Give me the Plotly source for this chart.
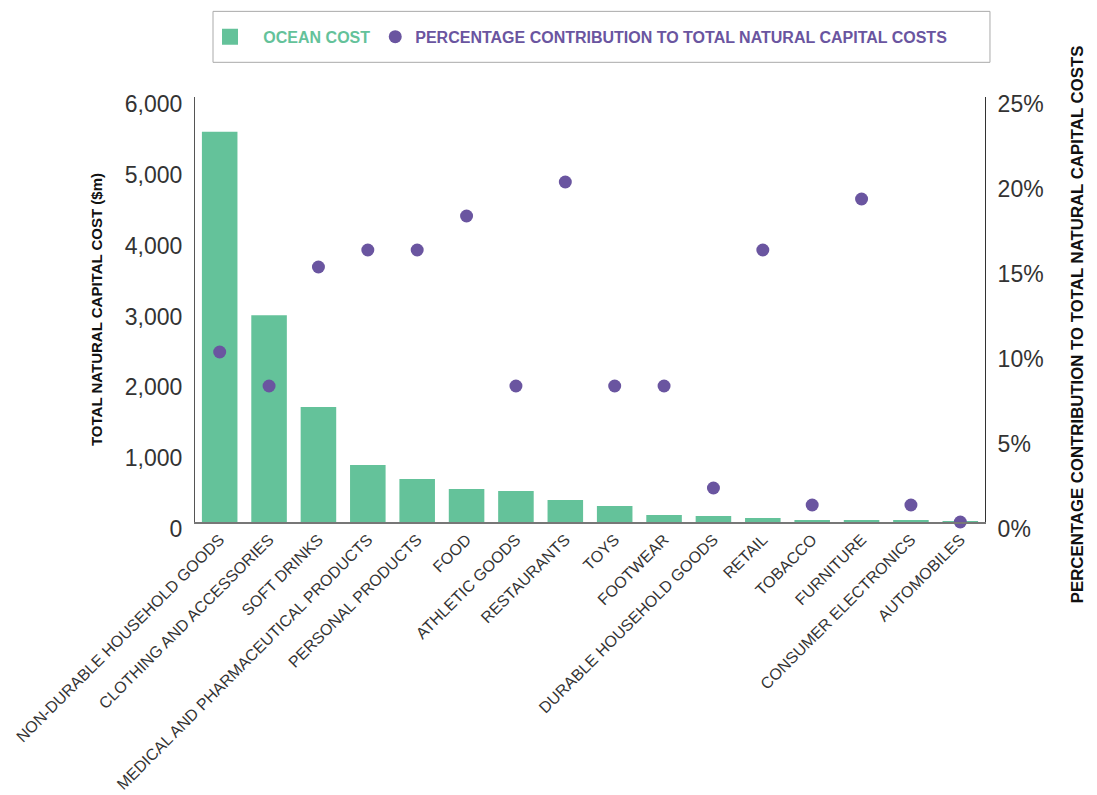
import plotly.graph_objects as go

categories = [
    "NON-DURABLE HOUSEHOLD GOODS", "CLOTHING AND ACCESSORIES", "SOFT DRINKS",
    "MEDICAL AND PHARMACEUTICAL PRODUCTS", "PERSONAL PRODUCTS", "FOOD",
    "ATHLETIC GOODS", "RESTAURANTS", "TOYS", "FOOTWEAR",
    "DURABLE HOUSEHOLD GOODS", "RETAIL", "TOBACCO", "FURNITURE",
    "CONSUMER ELECTRONICS", "AUTOMOBILES",
]
ocean_cost = [5510, 2920, 1625, 805, 607, 466, 438, 311, 226, 99, 85, 56, 28, 28, 16, 1]
pct_contribution = [10, 8, 15, 16, 16, 18, 8, 20, 8, 8, 2, 16, 1, 19, 1, 0]

left_ticks = [0, 1000, 2000, 3000, 4000, 5000, 6000]
right_ticks = [0, 5, 10, 15, 20, 25]
right_tick_labels = ["0%", "5%", "10%", "15%", "20%", "25%"]

GREEN = "#64C29A"
PURPLE = "#6A55A0"
FONT = "Liberation Sans, Arial, sans-serif"

fig = go.Figure()
fig.add_trace(go.Bar(
    x=categories, y=ocean_cost, name="OCEAN COST",
    marker=dict(color=GREEN, line=dict(width=0)), showlegend=False,
))
# legend swatch for the bar series
fig.add_trace(go.Scatter(
    x=[None], y=[None], mode="markers",
    name=f"&nbsp;&nbsp;&nbsp;<b><span style='color:{GREEN}'>OCEAN COST</span></b>",
    marker=dict(symbol="square", size=16, color=GREEN),
    legendrank=1,
))
fig.add_trace(go.Scatter(
    x=categories, y=pct_contribution,
    name=f"<b><span style='color:{PURPLE}'>PERCENTAGE CONTRIBUTION TO TOTAL NATURAL CAPITAL COSTS</span></b>",
    mode="markers", yaxis="y2",
    marker=dict(color=PURPLE, size=13, line=dict(width=0)), cliponaxis=False,
    legendrank=2,
))

fig.update_layout(
    width=1097, height=795,
    margin=dict(l=187, r=120, t=89, b=281, autoexpand=False),
    paper_bgcolor="white", plot_bgcolor="white",
    font=dict(family=FONT, color="#333333"),
    bargap=0.28,
    showlegend=True,
    legend=dict(
        orientation="h", x=0.019, xanchor="left", y=1.1416, yanchor="middle",
        borderwidth=0, bgcolor="rgba(0,0,0,0)",
        font=dict(size=16, family=FONT),
        itemsizing="trace",
    ),
    shapes=[dict(
        type="rect", xref="paper", yref="paper",
        x0=0.0228, x1=1.0063, y0=1.0816, y1=1.2015,
        line=dict(color="#AAAAAA", width=1), fillcolor="rgba(0,0,0,0)", layer="below",
    )],
    annotations=[dict(
        text="<b>PERCENTAGE CONTRIBUTION TO TOTAL NATURAL CAPITAL COSTS</b>",
        xref="paper", yref="paper", x=1.1165, y=0.4656,
        xanchor="center", yanchor="middle", textangle=-90, showarrow=False,
        font=dict(size=16.8, color="#111111", family=FONT),
    )],
    xaxis=dict(
        range=[-0.5, len(categories) - 0.5], automargin=False,
        tickangle=-45, tickfont=dict(size=16, color="#333333"),
        showline=True, linecolor="#777777", linewidth=2,
        showgrid=False, ticks="", zeroline=False,
    ),
    yaxis=dict(
        range=[0, 6000], tickvals=left_ticks, tickformat=",", automargin=False,
        tickfont=dict(size=23, color="#333333"),
        showline=True, linecolor="#555555", linewidth=1,
        showgrid=False, zeroline=False, ticks="", ticklabelstandoff=7,
        ticklabelshift=7,
        title=dict(text="<b>TOTAL NATURAL CAPITAL COST ($m)</b>",
                   font=dict(size=15, color="#111111"), standoff=18),
    ),
    yaxis2=dict(
        overlaying="y", side="right", automargin=False,
        range=[0, 25], tickvals=right_ticks, ticktext=right_tick_labels,
        tickfont=dict(size=23, color="#333333"),
        showline=True, linecolor="#333333", linewidth=1,
        showgrid=False, zeroline=False, ticks="", ticklabelstandoff=7,
        ticklabelshift=7,
    ),
)

fig.write_html("out.html")
